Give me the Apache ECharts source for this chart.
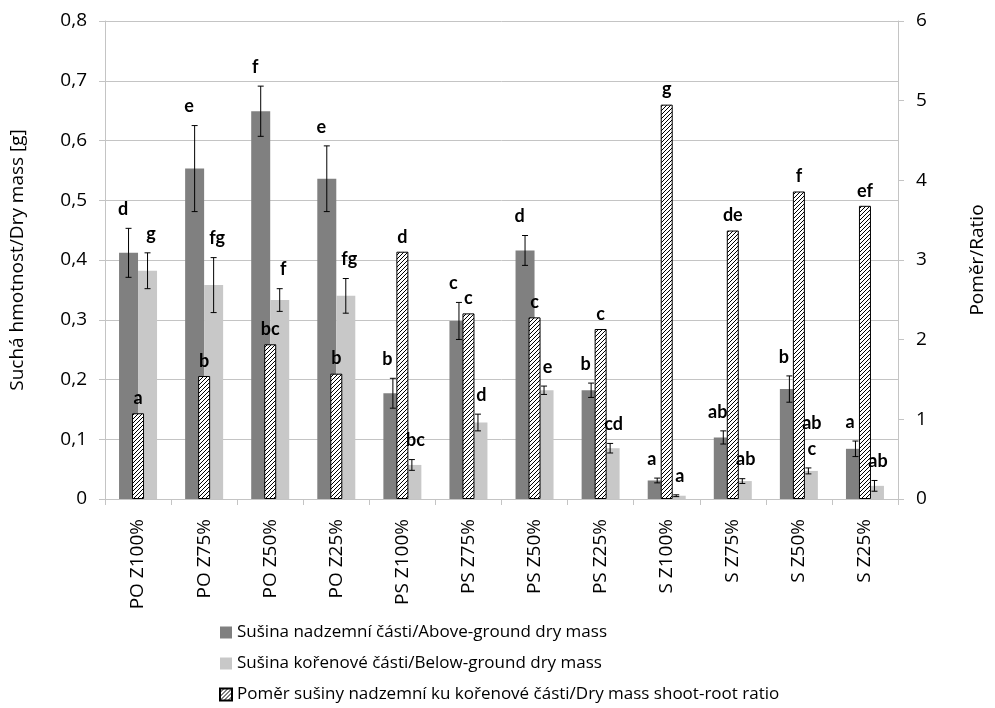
<!DOCTYPE html>
<html>
<head>
<meta charset="utf-8">
<script src="https://cdn.jsdelivr.net/npm/echarts@6/dist/echarts.min.js"></script>
<style>
  html, body { margin: 0; padding: 0; background: #fff; }
  #chart { width: 995px; height: 708px; }
</style>
</head>
<body>
<div id="chart"></div>
<script>
  // kategorie a hodnoty
  var categories = ['PO Z100%', 'PO Z75%', 'PO Z50%', 'PO Z25%', 'PS Z100%', 'PS Z75%', 'PS Z50%', 'PS Z25%', 'S Z100%', 'S Z75%', 'S Z50%', 'S Z25%'];
  var aboveMass = [0.412, 0.553, 0.649, 0.536, 0.177, 0.298, 0.416, 0.182, 0.031, 0.103, 0.184, 0.084];
  var aboveErr = [0.041, 0.072, 0.042, 0.055, 0.025, 0.031, 0.025, 0.012, 0.004, 0.011, 0.022, 0.013];
  var belowMass = [0.382, 0.358, 0.333, 0.340, 0.057, 0.128, 0.182, 0.085, 0.0055, 0.030, 0.047, 0.022];
  var belowErr = [0.030, 0.046, 0.019, 0.029, 0.009, 0.014, 0.007, 0.008, 0.0015, 0.004, 0.005, 0.009];
  var ratio = [1.076, 1.544, 1.942, 1.573, 3.104, 2.33, 2.28, 2.134, 4.95, 3.37, 3.86, 3.68];
  var aboveLetters = ['d', 'e', 'f', 'e', 'b', 'c', 'd', 'b', 'a', 'ab', 'b', 'a'];
  var belowLetters = ['g', 'fg', 'f', 'fg', 'bc', 'd', 'e', 'cd', 'a', 'ab', 'ab\nc', 'ab'];
  var ratioLetters = ['a', 'b', 'bc', 'b', 'd', 'c', 'c', 'c', 'g', 'de', 'f', 'ef'];

  var names = [
    'Sušina nadzemní části/Above-ground dry mass',
    'Sušina kořenové části/Below-ground dry mass',
    'Poměr sušiny nadzemní ku kořenové části/Dry mass shoot-root ratio'
  ];

  var gridColor = '#c4c4c4';
  var labelFont = 'Open Sans';
  var letterFont = 'bold 18px Lato';

  // šrafování pro poměr
  function hatch() {
    var c = document.createElement('canvas');
    c.width = 4;
    c.height = 4;
    var ctx = c.getContext('2d');
    ctx.fillStyle = '#fff';
    ctx.fillRect(0, 0, 4, 4);
    ctx.strokeStyle = '#000';
    ctx.lineWidth = 1;
    ctx.beginPath();
    ctx.moveTo(0, 4); ctx.lineTo(4, 0);
    ctx.moveTo(-1, 1); ctx.lineTo(1, -1);
    ctx.moveTo(3, 5); ctx.lineTo(5, 3);
    ctx.stroke();
    return c;
  }

  // chybové úsečky + písmena
  function errSeries(vals, errs, letters, barOffset, textOffset) {
    return {
      type: 'custom',
      xAxisIndex: 0,
      yAxisIndex: 0,
      z: 10,
      silent: true,
      data: vals.map(function (v, i) { return [i, v, errs[i]]; }),
      renderItem: function (params, api) {
        var i = api.value(0), v = api.value(1), e = api.value(2);
        var hi = api.coord([i, v + e]);
        var lo = api.coord([i, v - e]);
        var x = hi[0] + barOffset;
        var style = {stroke: '#000', lineWidth: 1};
        return {
          type: 'group',
          children: [
            {type: 'line', shape: {x1: x, y1: hi[1], x2: x, y2: lo[1]}, style: style},
            {type: 'line', shape: {x1: x - 3, y1: hi[1], x2: x + 3, y2: hi[1]}, style: style},
            {type: 'line', shape: {x1: x - 3, y1: lo[1], x2: x + 3, y2: lo[1]}, style: style},
            {
              type: 'text',
              style: {
                text: letters[i],
                x: hi[0] + textOffset,
                y: hi[1] - 6,
                align: 'center',
                verticalAlign: 'bottom',
                font: letterFont,
                fill: '#000',
                lineHeight: 26
              }
            }
          ]
        };
      }
    };
  }

  var chart = echarts.init(document.getElementById('chart'));
  chart.setOption({
    animation: false,
    backgroundColor: '#fff',
    grid: {left: 105, right: 72, top: 21, bottom: 209},
    legend: {
      data: names,
      orient: 'vertical',
      left: 219,
      top: 624,
      height: 84,
      padding: 0,
      itemWidth: 12,
      itemHeight: 12,
      itemGap: 14,
      icon: 'rect',
      textStyle: {fontFamily: labelFont, fontSize: 17, lineHeight: 17, color: '#000'}
    },
    xAxis: [{
      type: 'category',
      data: categories,
      axisLine: {lineStyle: {color: gridColor}},
      axisTick: {show: true, length: 6, lineStyle: {color: gridColor}},
      axisLabel: {rotate: 90, margin: 20, fontFamily: labelFont, fontSize: 19, color: '#000'}
    }, {
      type: 'category',
      data: categories,
      show: false
    }],
    yAxis: [{
      type: 'value',
      min: 0,
      max: 0.8,
      interval: 0.1,
      name: 'Suchá hmotnost/Dry mass [g]',
      nameLocation: 'middle',
      nameRotate: 90,
      nameGap: 78,
      nameTextStyle: {fontFamily: labelFont, fontSize: 19, color: '#000'},
      axisLine: {show: true, lineStyle: {color: gridColor}},
      axisTick: {show: true, length: 6, lineStyle: {color: gridColor}},
      splitLine: {lineStyle: {color: gridColor}},
      axisLabel: {
        margin: 18,
        fontFamily: labelFont,
        fontSize: 19,
        color: '#000',
        formatter: function (v) { return String(Math.round(v * 10) / 10).replace('.', ','); }
      }
    }, {
      type: 'value',
      min: 0,
      max: 6,
      interval: 1,
      name: 'Poměr/Ratio',
      nameLocation: 'middle',
      nameRotate: 90,
      nameGap: 70,
      nameTextStyle: {fontFamily: labelFont, fontSize: 19, color: '#000'},
      axisLine: {show: true, lineStyle: {color: gridColor}},
      axisTick: {show: true, length: 6, lineStyle: {color: gridColor}},
      splitLine: {show: false},
      axisLabel: {margin: 18, fontFamily: labelFont, fontSize: 19, color: '#000'}
    }],
    series: [{
      name: names[0],
      type: 'bar',
      xAxisIndex: 0,
      yAxisIndex: 0,
      barWidth: 19,
      barGap: '0%',
      itemStyle: {color: '#808080'},
      data: aboveMass
    }, {
      name: names[1],
      type: 'bar',
      xAxisIndex: 0,
      yAxisIndex: 0,
      barWidth: 19,
      barGap: '0%',
      itemStyle: {color: '#c8c8c8'},
      data: belowMass
    }, {
      name: names[2],
      type: 'bar',
      xAxisIndex: 1,
      yAxisIndex: 1,
      barWidth: 12,
      z: 5,
      itemStyle: {
        color: {image: hatch(), repeat: 'repeat'},
        borderColor: '#000',
        borderWidth: 1
      },
      label: {
        show: true,
        position: 'top',
        distance: 6,
        fontFamily: 'Lato',
        fontWeight: 'bold',
        fontSize: 18,
        color: '#000',
        formatter: function (p) { return ratioLetters[p.dataIndex]; }
      },
      data: ratio
    },
      errSeries(aboveMass, aboveErr, aboveLetters, -9.5, -15),
      errSeries(belowMass, belowErr, belowLetters, 9.5, 13)
    ]
  });
</script>
</body>
</html>
